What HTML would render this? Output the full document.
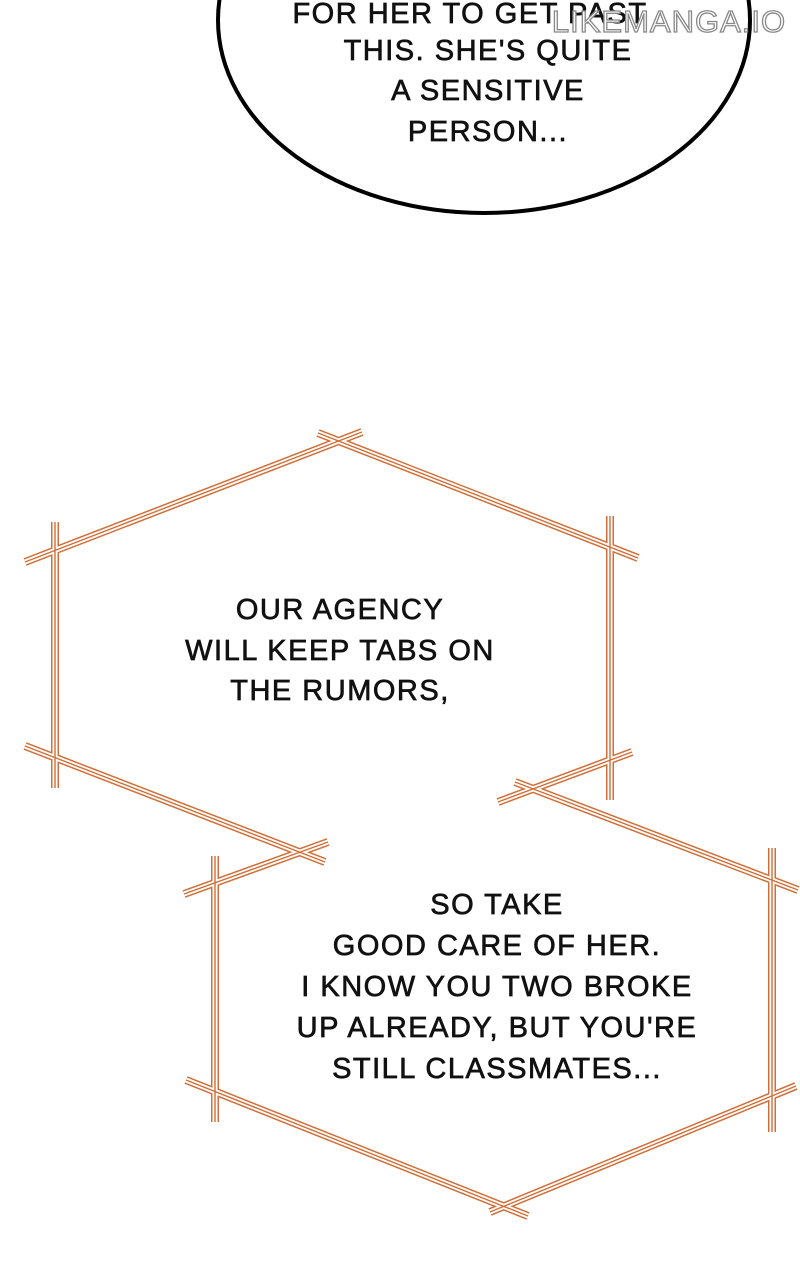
<!DOCTYPE html>
<html><head><meta charset="utf-8"><style>
html,body{margin:0;padding:0;background:#fff;}
svg{display:block}
text{font-family:"Liberation Sans",sans-serif;font-size:29px;fill:#111;stroke:#111;stroke-width:0.7;letter-spacing:1.5px;text-anchor:middle}
</style></head><body>
<svg width="800" height="1280" viewBox="0 0 800 1280" xmlns="http://www.w3.org/2000/svg">
<rect width="800" height="1280" fill="#fff"/>
<ellipse cx="484" cy="20" rx="266" ry="193" fill="#fff" stroke="#000" stroke-width="4"/>
<text x="470" y="23">FOR HER TO GET PAST</text>
<text x="488" y="60">THIS. SHE'S QUITE</text>
<text x="488" y="100">A SENSITIVE</text>
<text x="488" y="141">PERSON...</text>
<text x="669" y="32" style="font-size:31px;fill:#fff;stroke:#888;stroke-width:1.3;letter-spacing:1px">LIKEMANGA.IO</text>
<g stroke-linecap="butt" fill="none">
<g stroke="#d06f38" stroke-width="8">
<path d="M25 562L362 432M318 433L638 558M55 522V788M610 516V800M25 746L325 862M498 802L632 752"/>
<path d="M184 894L328 842M515 782L798 890M215 856V1122M772 848V1132M186 1080L528 1216M490 1212L796 1086"/>
</g>
<g stroke="#fff" stroke-width="5">
<path d="M25 562L362 432M318 433L638 558M55 522V788M610 516V800M25 746L325 862M498 802L632 752"/>
<path d="M184 894L328 842M515 782L798 890M215 856V1122M772 848V1132M186 1080L528 1216M490 1212L796 1086"/>
</g>
<g stroke="#d06f38" stroke-width="1.4">
<path d="M25 562L362 432M318 433L638 558M55 522V788M610 516V800M25 746L325 862M498 802L632 752"/>
<path d="M184 894L328 842M515 782L798 890M215 856V1122M772 848V1132M186 1080L528 1216M490 1212L796 1086"/>
</g>
</g>
<text x="340" y="619">OUR AGENCY</text>
<text x="340" y="660">WILL KEEP TABS ON</text>
<text x="340" y="700">THE RUMORS,</text>
<text x="497" y="914">SO TAKE</text>
<text x="497" y="955">GOOD CARE OF HER.</text>
<text x="497" y="996">I KNOW YOU TWO BROKE</text>
<text x="497" y="1037">UP ALREADY, BUT YOU'RE</text>
<text x="497" y="1078">STILL CLASSMATES...</text>
</svg>
</body></html>
